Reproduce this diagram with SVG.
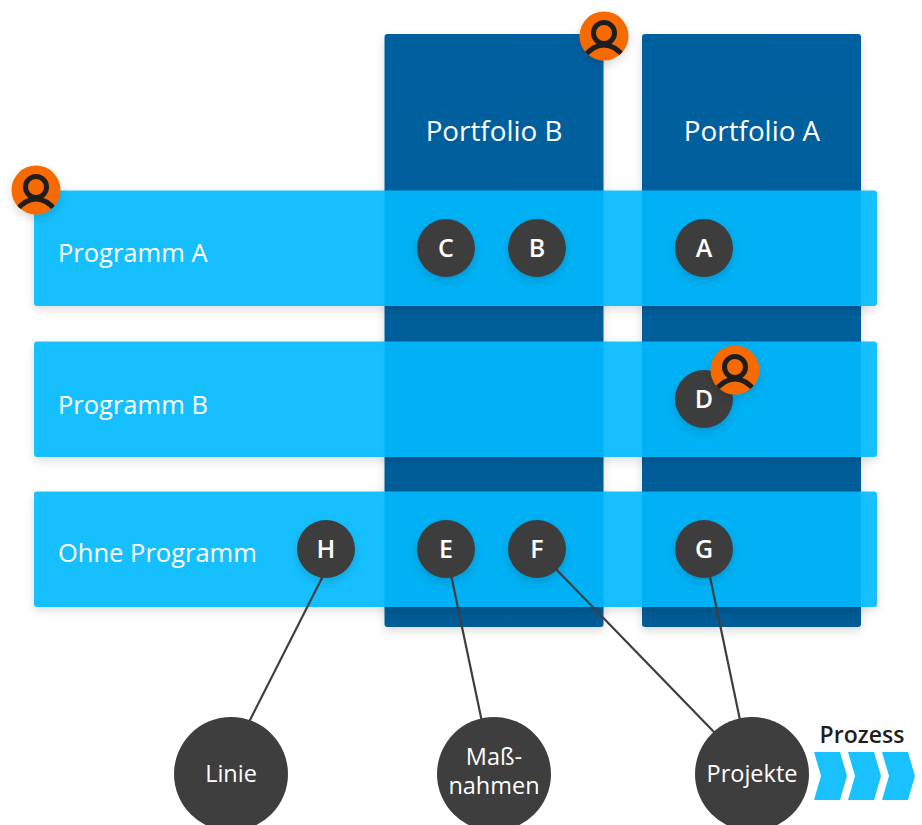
<svg xmlns="http://www.w3.org/2000/svg" width="922" height="825" viewBox="0 0 922 825">
<style>
text{font-family:"Open Sans","Liberation Sans",sans-serif}
.col{fill:url(#colGrad);filter:url(#sh)}
.row{fill:#00baff;fill-opacity:.9;filter:url(#sh)}
.big{font-size:27.8px;fill:#fff}
.lab{font-size:25.5px;fill:#fff}
.dot{fill:#3e3e3e}
.let{font-size:25px;font-weight:600;fill:#fff;text-anchor:middle}
.cap{font-size:23.5px;fill:#fff;text-anchor:middle}
.lnk{stroke:#3e3e3e;stroke-width:2.2;fill:none}
.chev{fill:#1ac1ff}
.av{fill:#f66a00}
.ring{fill:none;stroke:#1e1e1e;stroke-width:5}
</style>
<defs>
<linearGradient id="colGrad" x1="0" y1="0" x2="0" y2="1"><stop offset="0" stop-color="#00609f"/><stop offset="1" stop-color="#005c96"/></linearGradient>
<filter id="sh" x="-20%" y="-20%" width="140%" height="140%"><feDropShadow dx="0" dy="4" stdDeviation="5" flood-color="#000" flood-opacity=".14"/></filter>
<clipPath id="avc"><circle r="24.5"/></clipPath>
<g id="avatar"><circle class="av" r="24.5" filter="url(#sh)"/><g clip-path="url(#avc)"><circle class="ring" cx="0" cy="-3" r="10.5"/><path class="ring" d="M-20 21Q-11 9 0 9Q11 9 20 21"/></g></g>
</defs>
<g id="portfolio-b"><rect class="col" x="384.5" y="34" width="219" height="593" rx="3"/><text class="big" x="494" y="141" text-anchor="middle">Portfolio B</text></g>
<g id="portfolio-a"><rect class="col" x="642" y="34" width="219" height="593" rx="3"/><text class="big" x="752" y="141" text-anchor="middle">Portfolio A</text></g>
<g id="programm-a"><rect class="row" x="34" y="190.5" width="843" height="115.5" rx="3"/><text class="lab" x="58" y="262">Programm A</text></g>
<g id="programm-b"><rect class="row" x="34" y="341.5" width="843" height="115.5" rx="3"/><text class="lab" x="58" y="414">Programm B</text></g>
<g id="ohne-programm"><rect class="row" x="34" y="491.5" width="843" height="115.5" rx="3"/><text class="lab" x="58" y="562">Ohne Programm</text></g>
<g id="connectors">
<line class="lnk" x1="326" y1="570" x2="249" y2="722"/>
<line class="lnk" x1="450" y1="570" x2="482" y2="722"/>
<line class="lnk" x1="552" y1="565" x2="714" y2="732"/>
<line class="lnk" x1="709" y1="572" x2="740" y2="720"/>
</g>
<g id="node-c"><circle class="dot" cx="446" cy="248" r="29" filter="url(#sh)"/><text class="let" x="446" y="257">C</text></g>
<g id="node-b"><circle class="dot" cx="537" cy="248" r="29" filter="url(#sh)"/><text class="let" x="537" y="257">B</text></g>
<g id="node-a"><circle class="dot" cx="704" cy="248" r="29" filter="url(#sh)"/><text class="let" x="704" y="257">A</text></g>
<g id="node-d"><circle class="dot" cx="704" cy="399" r="29" filter="url(#sh)"/><text class="let" x="704" y="408">D</text></g>
<g id="node-h"><circle class="dot" cx="326" cy="549" r="29" filter="url(#sh)"/><text class="let" x="326" y="558">H</text></g>
<g id="node-e"><circle class="dot" cx="446" cy="549" r="29" filter="url(#sh)"/><text class="let" x="446" y="558">E</text></g>
<g id="node-f"><circle class="dot" cx="537" cy="549" r="29" filter="url(#sh)"/><text class="let" x="537" y="558">F</text></g>
<g id="node-g"><circle class="dot" cx="704" cy="549" r="29" filter="url(#sh)"/><text class="let" x="704" y="558">G</text></g>
<g id="owner-portfolio-b"><use href="#avatar" x="604" y="36"/></g>
<g id="owner-programm-a"><use href="#avatar" x="36" y="190"/></g>
<g id="owner-d"><use href="#avatar" x="735" y="370"/></g>
<g id="linie"><circle class="dot" cx="231" cy="774" r="57"/><text class="cap" x="231" y="782">Linie</text></g>
<g id="massnahmen"><circle class="dot" cx="494" cy="774" r="57"/><text class="cap" x="494" y="765">Maß-</text><text class="cap" x="494" y="794">nahmen</text></g>
<g id="projekte"><circle class="dot" cx="752" cy="774" r="57"/><text class="cap" x="752" y="782">Projekte</text></g>
<g id="prozess">
<text x="862" y="743" text-anchor="middle" font-size="23" font-weight="600" fill="#1e1e1e">Prozess</text>
<path class="chev" d="M814 752H840L847 776L840 800H814L821 776Z"/>
<path class="chev" d="M848 752H874L881 776L874 800H848L855 776Z"/>
<path class="chev" d="M882 752H908L915 776L908 800H882L889 776Z"/>
</g>
</svg>
